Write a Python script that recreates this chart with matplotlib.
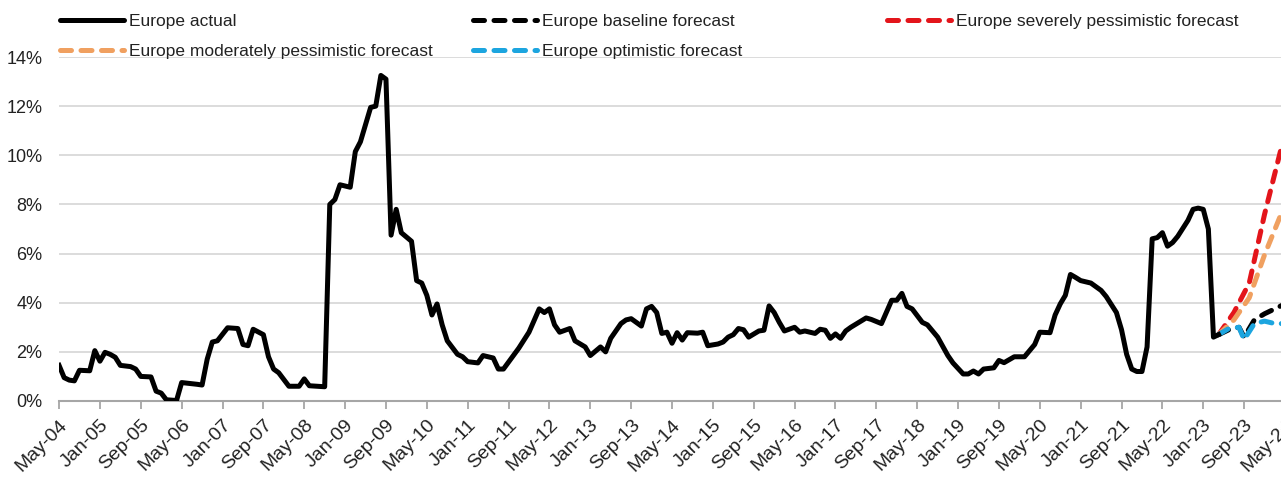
import matplotlib.pyplot as plt
from matplotlib.lines import Line2D
from matplotlib.ticker import FuncFormatter

plt.rcParams['font.family'] = ['Liberation Sans', 'DejaVu Sans']

# months counted from May-04 (0 = May-04)
actual_month = [0, 1, 2, 3, 4, 6, 7, 8, 9, 10, 11, 12, 14, 15, 16, 18, 19, 20, 21, 23,
                24, 27, 28, 29, 30, 31, 33, 35, 36, 37, 38, 40, 41, 42, 43, 45, 47, 48, 49, 52,
                53, 54, 55, 57, 58, 59, 61, 62, 63, 64, 65, 66, 67, 69, 70, 71, 72, 73, 74, 75,
                76, 78, 79, 80, 82, 83, 85, 86, 87, 90, 92, 94, 95, 96, 97, 98, 100, 101, 103, 104,
                106, 107, 108, 110, 111, 112, 114, 115, 116, 117, 118, 119, 120, 121, 122, 123, 125, 126, 127, 129,
                130, 131, 132, 133, 134, 135, 137, 138, 139, 140, 141, 142, 144, 145, 146, 148, 149, 150, 151, 152,
                153, 154, 155, 158, 159, 161, 163, 164, 165, 166, 167, 169, 170, 172, 174, 175, 177, 178, 179, 180,
                181, 183, 184, 185, 187, 189, 190, 191, 192, 194, 195, 196, 197, 198, 199, 200, 202, 204, 205, 207,
                208, 209, 210, 211, 212, 213, 214, 215, 216, 217, 218, 219, 221, 222, 223, 224, 225, 226, 227]
actual_value = [1.45, 0.95, 0.85, 0.82, 1.25, 1.23, 2.05, 1.62, 1.98, 1.90, 1.78, 1.45, 1.40, 1.30, 1.00, 0.98, 0.40, 0.32, 0.05, 0.02,
                0.75, 0.68, 0.65, 1.70, 2.40, 2.45, 2.98, 2.95, 2.30, 2.25, 2.92, 2.70, 1.80, 1.30, 1.15, 0.60, 0.60, 0.90, 0.62, 0.58,
                8.00, 8.20, 8.80, 8.70, 10.15, 10.55, 11.95, 12.00, 13.25, 13.10, 6.75, 7.80, 6.85, 6.50, 4.90, 4.80, 4.30, 3.50, 3.95, 3.10,
                2.45, 1.90, 1.80, 1.60, 1.55, 1.85, 1.75, 1.30, 1.30, 2.15, 2.80, 3.75, 3.60, 3.75, 3.10, 2.80, 2.95, 2.45, 2.20, 1.85,
                2.20, 2.00, 2.55, 3.15, 3.30, 3.35, 3.05, 3.75, 3.85, 3.60, 2.75, 2.80, 2.35, 2.78, 2.48, 2.78, 2.76, 2.80, 2.25, 2.32,
                2.40, 2.60, 2.70, 2.95, 2.90, 2.60, 2.85, 2.88, 3.87, 3.60, 3.20, 2.85, 3.00, 2.80, 2.85, 2.75, 2.92, 2.88, 2.55, 2.73,
                2.55, 2.85, 3.00, 3.38, 3.32, 3.15, 4.10, 4.10, 4.38, 3.85, 3.75, 3.20, 3.10, 2.60, 1.85, 1.55, 1.10, 1.10, 1.22, 1.10,
                1.30, 1.35, 1.65, 1.56, 1.80, 1.80, 2.05, 2.30, 2.80, 2.78, 3.50, 3.95, 4.30, 5.15, 5.03, 4.90, 4.80, 4.50, 4.25, 3.60,
                2.90, 1.90, 1.30, 1.20, 1.20, 2.20, 6.60, 6.65, 6.85, 6.30, 6.45, 6.70, 7.35, 7.80, 7.85, 7.80, 7.00, 2.60, 2.70]

severe_month = [227, 230, 233, 236, 240]
severe_value = [2.7, 3.6, 4.8, 7.6, 10.9]
moderate_month = [227, 230, 233, 236, 240]
moderate_value = [2.7, 3.3, 4.2, 5.95, 8.0]
baseline_month = [227, 229, 231, 232, 234, 236, 238, 240]
baseline_value = [2.7, 2.9, 3.0, 2.6, 3.3, 3.55, 3.75, 3.95]
optimistic_month = [227, 229, 231, 232, 234, 236, 238, 240]
optimistic_value = [2.7, 2.95, 3.0, 2.5, 3.15, 3.25, 3.15, 3.15]

tick_labels = ['May-04', 'Jan-05', 'Sep-05', 'May-06', 'Jan-07', 'Sep-07', 'May-08', 'Jan-09',
               'Sep-09', 'May-10', 'Jan-11', 'Sep-11', 'May-12', 'Jan-13', 'Sep-13', 'May-14',
               'Jan-15', 'Sep-15', 'May-16', 'Jan-17', 'Sep-17', 'May-18', 'Jan-19', 'Sep-19',
               'May-20', 'Jan-21', 'Sep-21', 'May-22', 'Jan-23', 'Sep-23', 'May-24']
tick_month = list(range(0, 241, 8))

fig = plt.figure(figsize=(12.81, 4.84), dpi=100)
ax = fig.add_axes([0.0461, 0.1715, 0.961, 0.7107])

lw = 3.6
dash = (0, (2.2, 1.9))
ax.plot(actual_month, actual_value, color='black', lw=lw, solid_joinstyle='round', zorder=5)
ax.plot(severe_month, severe_value, color='#e3151b', lw=lw, ls=dash, dash_capstyle='round', zorder=3)
ax.plot(moderate_month, moderate_value, color='#f0a060', lw=lw, ls=dash, dash_capstyle='round', zorder=3)
ax.plot(baseline_month, baseline_value, color='black', lw=lw, ls=dash, dash_capstyle='round', zorder=4)
ax.plot(optimistic_month, optimistic_value, color='#1ca5df', lw=lw, ls=dash, dash_capstyle='round', zorder=4)

ax.set_xlim(0, 241)
ax.set_ylim(0, 14)
ax.set_yticks(range(0, 15, 2))
ax.yaxis.set_major_formatter(FuncFormatter(lambda v, p: f'{v:.0f}%'))
ax.set_xticks(tick_month)
ax.set_xticklabels(tick_labels, rotation=45, ha='right', rotation_mode='anchor')

ax.grid(axis='y', color='#d9d9d9', lw=1.3)
ax.set_axisbelow(True)
for s in ['top', 'right', 'left']:
    ax.spines[s].set_visible(False)
ax.spines['bottom'].set_color('#a6a6a6')
ax.spines['bottom'].set_linewidth(1.5)
ax.tick_params(axis='y', length=0, pad=12, labelsize=13, labelcolor='#222222')
ax.tick_params(axis='x', length=6, width=1.3, color='#a6a6a6', pad=5, labelsize=14, labelcolor='#222222')

def handle(color, style):
    return Line2D([], [], color=color, lw=lw, ls=style, dash_capstyle='round', solid_capstyle='round')

groups = [
    ([handle('black', '-'), handle('#f0a060', dash)],
     ['Europe actual', 'Europe moderately pessimistic forecast'], 0.0468),
    ([handle('black', dash), handle('#1ca5df', dash)],
     ['Europe baseline forecast', 'Europe optimistic forecast'], 0.3692),
    ([handle('#e3151b', dash)], ['Europe severely pessimistic forecast'], 0.6924),
]
for hs, labs, x0 in groups:
    fig.legend(hs, labs, loc='upper left', bbox_to_anchor=(x0, 0.971), frameon=False,
               fontsize=12.5, handlelength=3.7, handletextpad=0.3, labelspacing=0.85,
               borderpad=0, borderaxespad=0, labelcolor='#222222')

fig.savefig('out.png', dpi=100)
